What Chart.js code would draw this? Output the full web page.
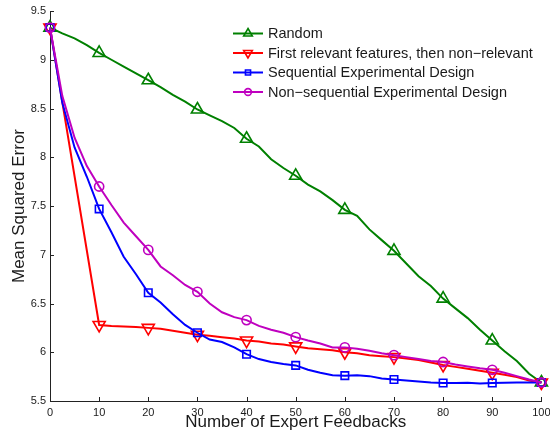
<!DOCTYPE html>
<html><head><meta charset="utf-8">
<script src="https://cdn.jsdelivr.net/npm/chart.js@4/dist/chart.umd.min.js"></script>
<style>html,body{margin:0;padding:0;background:#fff}#wrap{width:550px;height:433px;position:relative}</style>
</head><body><div id="wrap"><canvas id="c" width="550" height="433"></canvas></div>
<script>
// ---- data ----
const xs = [0,2.5,5,7.5,10,12.5,15,17.5,20,22.5,25,27.5,30,32.5,35,37.5,40,42.5,45,47.5,50,52.5,55,57.5,60,62.5,65,67.5,70,72.5,75,77.5,80,82.5,85,87.5,90,92.5,95,97.5,100];
const seriesLabels = ["Random","First relevant features, then non\u2212relevant","Sequential Experimental Design","Non\u2212sequential Experimental Design"];
const randomVals = [9.33,9.27,9.22,9.15,9.07,9.00,8.93,8.86,8.79,8.72,8.64,8.57,8.49,8.43,8.37,8.30,8.19,8.11,7.98,7.89,7.81,7.72,7.65,7.56,7.46,7.40,7.26,7.15,7.04,6.91,6.78,6.68,6.55,6.45,6.35,6.23,6.12,6.01,5.91,5.78,5.69];
const relevantFirstVals = [9.33,null,null,null,6.28,6.27,6.265,6.26,6.25,6.24,6.22,6.20,6.18,6.17,6.155,6.14,6.12,6.11,6.09,6.08,6.06,6.04,6.03,6.02,6.00,5.99,5.97,5.96,5.95,5.935,5.92,5.895,5.87,5.85,5.83,5.81,5.79,5.77,5.745,5.71,5.69];
const sequentialVals = [9.33,8.56,8.10,7.80,7.47,7.23,6.98,6.80,6.61,6.51,6.39,6.28,6.20,6.13,6.105,6.05,5.98,5.93,5.90,5.88,5.865,5.82,5.79,5.765,5.76,5.765,5.755,5.73,5.72,5.71,5.70,5.69,5.684,5.685,5.686,5.68,5.684,5.688,5.69,5.69,5.69];
const nonSequentialVals = [9.33,8.63,8.20,7.91,7.70,7.51,7.33,7.19,7.05,6.88,6.79,6.69,6.62,6.50,6.41,6.36,6.33,6.27,6.23,6.20,6.155,6.12,6.09,6.05,6.05,6.035,6.015,5.99,5.97,5.95,5.93,5.91,5.90,5.875,5.855,5.835,5.82,5.79,5.755,5.72,5.69];
const xTickVals = [0,10,20,30,40,50,60,70,80,90,100];
const yTickVals = [5.5,6,6.5,7,7.5,8,8.5,9,9.5];
const xTitle = "Number of Expert Feedbacks";
const yTitle = "Mean Squared Error";

// ---- styles ----
const FONT = "'Liberation Sans', Arial, Helvetica, sans-serif";
const TXT = '#1a1a1a';

function mkDataset(label, vals, color, style, rot, r, legendR, order) {
  return {
    label: label,
    data: xs.map((x, i) => ({x: x, y: vals[i]})),
    borderColor: color, backgroundColor: color, borderWidth: 2,
    pointStyle: style, pointRotation: rot,
    pointRadius: ctx => (xs[ctx.dataIndex] % 10 === 0 && vals[ctx.dataIndex] != null) ? r : 0,
    pointHoverRadius: 0, pointHitRadius: 0,
    pointBorderColor: color, pointBackgroundColor: 'rgba(0,0,0,0)', pointBorderWidth: 1.6,
    spanGaps: true, tension: 0, clip: false, order: order,
    legendR: legendR
  };
}

const datasets = [
  mkDataset(seriesLabels[0], randomVals, '#008000', 'triangle', 0, 7, 5, 3),
  mkDataset(seriesLabels[1], relevantFirstVals, '#ff0000', 'triangle', 180, 7, 5, 2),
  mkDataset(seriesLabels[2], sequentialVals, '#0000ff', 'rect', 0, 5.3, 3.6, 1),
  mkDataset(seriesLabels[3], nonSequentialVals, '#bf00bf', 'circle', 0, 4.6, 3.4, 0)
];

function drawMarker(ctx, style, rot, r, x, y) {
  if (Chart.helpers && Chart.helpers.drawPoint) {
    Chart.helpers.drawPoint(ctx, {pointStyle: style, rotation: rot, radius: r, borderWidth: 1}, x, y);
    return;
  }
  ctx.beginPath();
  if (style === 'circle') ctx.arc(x, y, r, 0, Math.PI * 2);
  else if (style === 'rect') { const s = r * Math.SQRT1_2; ctx.rect(x - s, y - s, 2 * s, 2 * s); }
  else {
    const dir = rot === 180 ? -1 : 1;
    ctx.moveTo(x, y - dir * r);
    ctx.lineTo(x + r * 0.866, y + dir * r * 0.5);
    ctx.lineTo(x - r * 0.866, y + dir * r * 0.5);
    ctx.closePath();
  }
  ctx.stroke();
}

const legendPlugin = {
  id: 'mlegend',
  afterDraw(chart) {
    const ctx = chart.ctx;
    ctx.save();
    chart.data.datasets.forEach((d, i) => {
      const y = 33.5 + i * 19.5;
      ctx.strokeStyle = d.borderColor;
      ctx.fillStyle = 'rgba(0,0,0,0)';
      ctx.lineWidth = 2;
      ctx.beginPath(); ctx.moveTo(233, y); ctx.lineTo(263, y); ctx.stroke();
      ctx.lineWidth = 1.6;
      drawMarker(ctx, d.pointStyle, d.pointRotation, d.legendR, 248, y);
      ctx.fillStyle = TXT;
      ctx.font = '14.5px ' + FONT;
      ctx.textAlign = 'left';
      ctx.textBaseline = 'middle';
      ctx.fillText(d.label, 268, y + 0.5);
    });
    ctx.restore();
  }
};

const tickPlugin = {
  id: 'inticks',
  afterDraw(chart) {
    const ctx = chart.ctx, xsS = chart.scales.x, ysS = chart.scales.y, a = chart.chartArea;
    ctx.save();
    ctx.strokeStyle = '#222'; ctx.lineWidth = 1;
    ctx.beginPath();
    xsS.ticks.forEach(t => { const p = Math.round(xsS.getPixelForValue(t.value)) + 0.5; ctx.moveTo(p, a.bottom); ctx.lineTo(p, a.bottom - 4); });
    ysS.ticks.forEach(t => { const p = Math.round(ysS.getPixelForValue(t.value)) + 0.5; ctx.moveTo(a.left, p); ctx.lineTo(a.left + 4, p); });
    ctx.stroke();
    ctx.restore();
  }
};

Chart.defaults.font.family = FONT;
Chart.defaults.color = TXT;

new Chart(document.getElementById('c'), {
  type: 'line',
  data: {datasets: datasets},
  options: {
    responsive: false, animation: false,
    layout: {padding: {left: 0, top: 11, right: 8, bottom: 0}},
    plugins: {legend: {display: false}, tooltip: {enabled: false}},
    scales: {
      x: {
        type: 'linear', min: 0, max: 100,
        afterBuildTicks: s => { s.ticks = xTickVals.map(v => ({value: v})); },
        afterFit: s => { s.height = 32; s.paddingLeft = 0; s.paddingRight = 0; },
        ticks: {font: {size: 11}, padding: 5, maxRotation: 0, autoSkip: false, callback: v => String(v)},
        grid: {display: true, drawOnChartArea: false, drawTicks: false},
        border: {display: true, color: '#222', width: 1},
        title: {display: true, text: xTitle, font: {size: 17}, padding: {top: 0, bottom: 0}}
      },
      y: {
        type: 'linear', min: 5.5, max: 9.5,
        afterBuildTicks: s => { s.ticks = yTickVals.map(v => ({value: v})); },
        afterFit: s => { s.width = 50; s.paddingTop = 0; s.paddingBottom = 0; },
        ticks: {font: {size: 11}, padding: 4, autoSkip: false, callback: v => String(v)},
        grid: {display: true, drawOnChartArea: false, drawTicks: false},
        border: {display: true, color: '#222', width: 1},
        title: {display: true, text: yTitle, font: {size: 17}, padding: {top: 9, bottom: 0}}
      }
    }
  },
  plugins: [legendPlugin, tickPlugin]
});
</script></body></html>
